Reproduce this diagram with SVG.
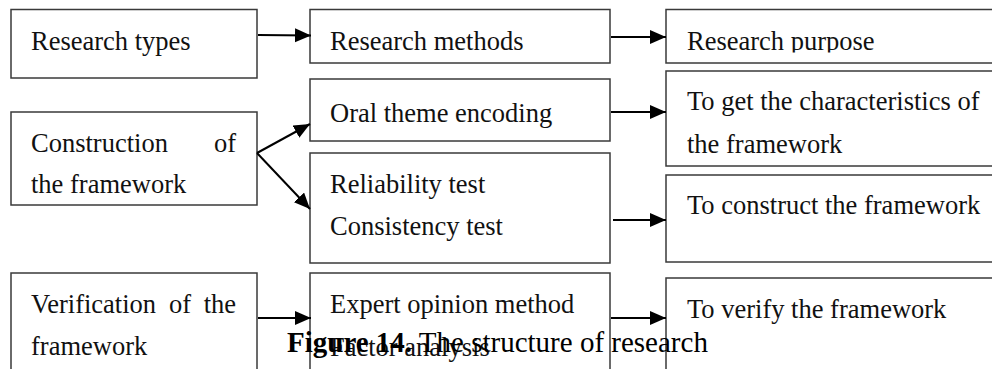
<svg xmlns="http://www.w3.org/2000/svg" width="992" height="369" viewBox="0 0 992 369">
  <style>
    .box { fill: #ffffff; stroke: #3a3a3a; stroke-width: 1.5; }
    .lbl { font-family: "Liberation Serif", "Times New Roman", serif; font-size: 26.5px; fill: #111111; }
    .cap { font-family: "Liberation Serif", "Times New Roman", serif; font-size: 29px; fill: #000000; }
    .edge { stroke: #000000; stroke-width: 2; fill: none; }
  </style>
  <defs>
    <marker id="arrow" markerUnits="userSpaceOnUse" markerWidth="17" markerHeight="15" refX="16" refY="7" orient="auto">
      <path d="M0,0 L16,7 L0,14 Z" fill="#000000"/>
    </marker>
    <clipPath id="purposeClip">
      <rect x="666" y="9" width="326" height="43.5"/>
    </clipPath>
  </defs>
  <rect width="992" height="369" fill="#ffffff"/>

  <!-- left column -->
  <g id="research-types">
    <rect class="box" x="11" y="9.5" width="246" height="68.5"/>
    <text class="lbl" x="31" y="50">Research types</text>
  </g>
  <g id="construction">
    <rect class="box" x="11" y="112" width="246" height="93"/>
    <text class="lbl" x="31" y="152">Construction</text>
    <text class="lbl" x="236" y="152" text-anchor="end">of</text>
    <text class="lbl" x="31" y="193">the framework</text>
  </g>
  <g id="verification">
    <rect class="box" x="11" y="273" width="246" height="110"/>
    <text class="lbl" x="31" y="313">Verification</text>
    <text class="lbl" x="169" y="313">of</text>
    <text class="lbl" x="236" y="313" text-anchor="end">the</text>
    <text class="lbl" x="31" y="355">framework</text>
  </g>

  <!-- middle column -->
  <g id="research-methods">
    <rect class="box" x="310" y="9.5" width="300" height="53.5"/>
    <text class="lbl" x="330" y="50">Research methods</text>
  </g>
  <g id="oral-theme">
    <rect class="box" x="310" y="79" width="300" height="62"/>
    <text class="lbl" x="330" y="122">Oral theme encoding</text>
  </g>
  <g id="tests">
    <rect class="box" x="310" y="153" width="300" height="110"/>
    <text class="lbl" x="330" y="193">Reliability test</text>
    <text class="lbl" x="330" y="235">Consistency test</text>
  </g>
  <g id="expert">
    <rect class="box" x="310" y="273" width="300" height="110"/>
    <text class="lbl" x="330" y="313">Expert opinion method</text>
    <text class="lbl" x="330" y="356">Factor analysis</text>
  </g>

  <!-- right column -->
  <g id="research-purpose">
    <rect class="box" x="666" y="9.5" width="340" height="53.5"/>
    <text class="lbl" x="687" y="50" clip-path="url(#purposeClip)">Research purpose</text>
  </g>
  <g id="characteristics">
    <rect class="box" x="666" y="71" width="340" height="95"/>
    <text class="lbl" x="687" y="110">To get the characteristics of</text>
    <text class="lbl" x="687" y="153">the framework</text>
  </g>
  <g id="construct">
    <rect class="box" x="666" y="175" width="340" height="87"/>
    <text class="lbl" x="687" y="214">To construct the framework</text>
  </g>
  <g id="verify">
    <rect class="box" x="666" y="278" width="340" height="110"/>
    <text class="lbl" x="687" y="318">To verify the framework</text>
  </g>

  <!-- connectors -->
  <g id="connectors">
    <line class="edge" x1="258" y1="35" x2="311" y2="35.5" marker-end="url(#arrow)"/>
    <line class="edge" x1="611" y1="37" x2="666" y2="37" marker-end="url(#arrow)"/>
    <line class="edge" x1="257" y1="153" x2="310" y2="124" marker-end="url(#arrow)"/>
    <line class="edge" x1="257" y1="153" x2="310" y2="209" marker-end="url(#arrow)"/>
    <line class="edge" x1="611" y1="112" x2="666" y2="112" marker-end="url(#arrow)"/>
    <line class="edge" x1="613" y1="220" x2="666" y2="220" marker-end="url(#arrow)"/>
    <line class="edge" x1="258" y1="318" x2="311" y2="318" marker-end="url(#arrow)"/>
    <line class="edge" x1="611" y1="318" x2="666" y2="318" marker-end="url(#arrow)"/>
  </g>

  <!-- caption -->
  <text class="cap" x="287" y="352"><tspan font-weight="bold">Figure 14.</tspan> The structure of research</text>
</svg>
